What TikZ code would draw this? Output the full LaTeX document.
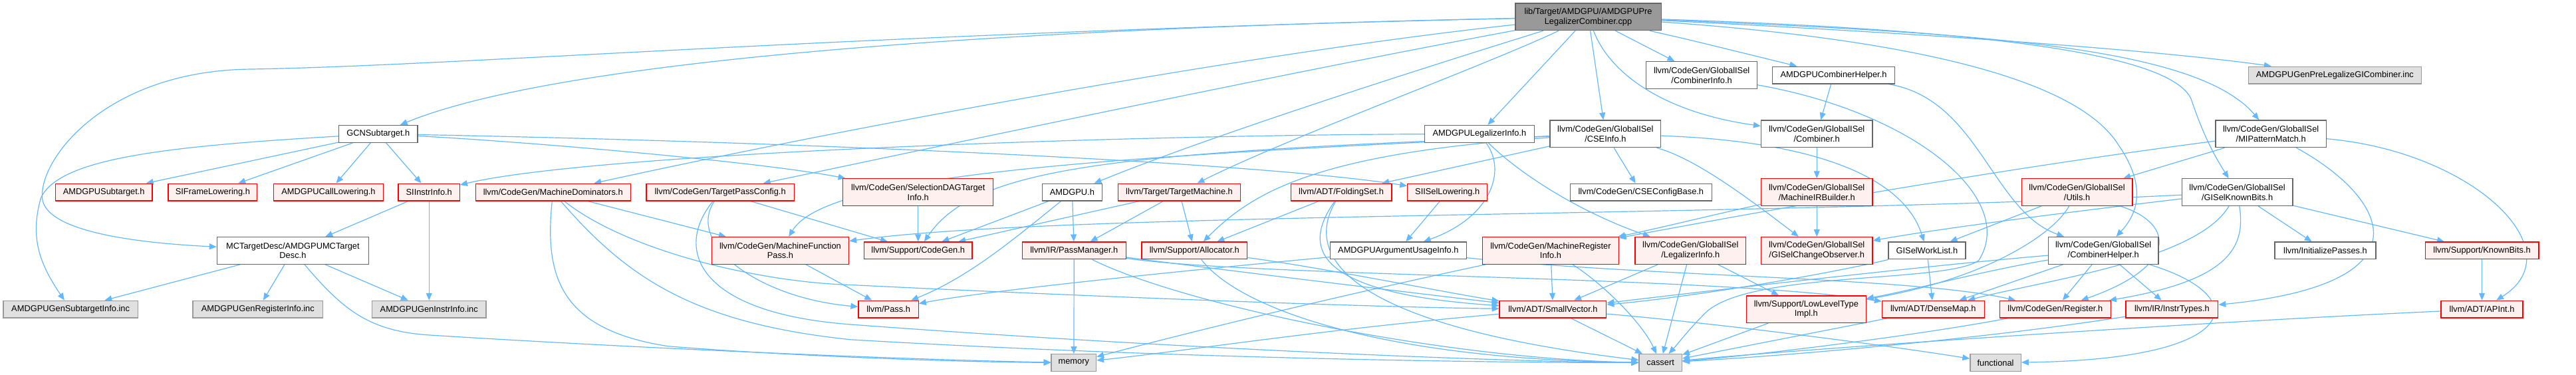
\documentclass[tikz,border=0pt]{standalone}
\usepackage{fontspec}
\setmainfont{Liberation Sans}
\usetikzlibrary{arrows.meta}
\definecolor{edgec}{HTML}{63B8FF}
\definecolor{redb}{HTML}{FF0000}
\definecolor{redf}{HTML}{FFF0F0}
\definecolor{greyb}{HTML}{999999}
\definecolor{greyf}{HTML}{E0E0E0}
\definecolor{darkb}{HTML}{666666}
\definecolor{topf}{HTML}{999999}
\newcommand\dxf{\fontsize{13}{15}\selectfont}
\pgfdeclarelayer{bg}
\pgfdeclarelayer{edges}
\pgfsetlayers{bg,edges,main}
\tikzset{
  base/.style={draw, line width=1.3bp, inner sep=0pt, align=center, font=\dxf, text=black},
  wnode/.style={base, draw=darkb, fill=white},
  rnode/.style={base, draw=redb, fill=redf},
  gnode/.style={base, draw=greyb, fill=greyf},
  tnode/.style={base, draw=darkb, fill=topf},
  sz/.style 2 args={minimum width=#1bp, minimum height=#2bp},
  edge/.style={draw=edgec, line width=1.2bp, -{Triangle[length=11bp,width=9bp]}},
}
\begin{document}
\begin{tikzpicture}[x=1bp,y=-1bp]
\begin{pgfonlayer}{bg}
\useasboundingbox (0,0) rectangle (3874,568);
\fill[white] (0,0) rectangle (3874,568);
\end{pgfonlayer}
% top
\node[tnode, sz={221}{41}] (T) at (2408,25.5) {lib/Target/AMDGPU/AMDGPUPre\\LegalizerCombiner.cpp};
% row 2
\node[wnode, sz={168}{41}] (CInfo) at (2580,114) {llvm/CodeGen/GlobalISel\\/CombinerInfo.h};
\node[wnode, sz={185}{26}] (ACH) at (2780,114) {AMDGPUCombinerHelper.h};
\node[gnode, sz={262}{26}] (Inc) at (3540,114) {AMDGPUGenPreLegalizeGICombiner.inc};
% row 3
\node[wnode, sz={119}{26}] (GCN) at (573.5,203) {GCNSubtarget.h};
\node[wnode, sz={166}{26}] (ALI) at (2243,203) {AMDGPULegalizerInfo.h};
\node[wnode, sz={168}{41}] (CSE) at (2434,203) {llvm/CodeGen/GlobalISel\\/CSEInfo.h};
\node[wnode, sz={169}{41}] (Comb) at (2754.5,203) {llvm/CodeGen/GlobalISel\\/Combiner.h};
\node[wnode, sz={168}{41}] (MIPM) at (3443,203) {llvm/CodeGen/GlobalISel\\/MIPatternMatch.h};
% row 4
\node[rnode, sz={147}{26}] (ASub) at (157.5,291.5) {AMDGPUSubtarget.h};
\node[rnode, sz={135}{26}] (SIFL) at (322.5,291.5) {SIFrameLowering.h};
\node[rnode, sz={166}{26}] (ACL) at (498,291.5) {AMDGPUCallLowering.h};
\node[rnode, sz={93}{26}] (SII) at (650.5,291.5) {SIInstrInfo.h};
\node[rnode, sz={235}{26}] (MDom) at (838.5,291.5) {llvm/CodeGen/MachineDominators.h};
\node[rnode, sz={224}{26}] (TPC) at (1092,291.5) {llvm/CodeGen/TargetPassConfig.h};
\node[rnode, sz={228}{41}] (SDAG) at (1392,291.5) {llvm/CodeGen/SelectionDAGTarget\\Info.h};
\node[wnode, sz={91}{26}] (AMDGPU) at (1625.5,291.5) {AMDGPU.h};
\node[rnode, sz={186}{26}] (TM) at (1788,291.5) {llvm/Target/TargetMachine.h};
\node[rnode, sz={153}{26}] (Fold) at (2033.5,291.5) {llvm/ADT/FoldingSet.h};
\node[rnode, sz={121}{26}] (SISL) at (2194.5,291.5) {SIISelLowering.h};
\node[wnode, sz={215}{26}] (CSEC) at (2488,291.5) {llvm/CodeGen/CSEConfigBase.h};
\node[rnode, sz={169}{41}] (MIRB) at (2754.5,291.5) {llvm/CodeGen/GlobalISel\\/MachineIRBuilder.h};
\node[rnode, sz={168}{41}] (Utils) at (3149,291.5) {llvm/CodeGen/GlobalISel\\/Utils.h};
\node[wnode, sz={168}{41}] (GKB) at (3392,291.5) {llvm/CodeGen/GlobalISel\\/GISelKnownBits.h};
% row 5
\node[wnode, sz={230}{41}] (MCTD) at (444,380) {MCTargetDesc/AMDGPUMCTarget\\Desc.h};
\node[rnode, sz={208}{41}] (MFP) at (1183,380) {llvm/CodeGen/MachineFunction\\Pass.h};
\node[rnode, sz={164}{26}] (CG) at (1392,380) {llvm/Support/CodeGen.h};
\node[rnode, sz={157}{26}] (PM) at (1628.5,380) {llvm/IR/PassManager.h};
\node[rnode, sz={160}{26}] (Alloc) at (1811,380) {llvm/Support/Allocator.h};
\node[wnode, sz={207}{26}] (AUI) at (2120,380) {AMDGPUArgumentUsageInfo.h};
\node[rnode, sz={206}{41}] (MRI) at (2351,380) {llvm/CodeGen/MachineRegister\\Info.h};
\node[rnode, sz={168}{41}] (LegI) at (2563,380) {llvm/CodeGen/GlobalISel\\/LegalizerInfo.h};
\node[rnode, sz={169}{41}] (GCO) at (2754.5,380) {llvm/CodeGen/GlobalISel\\/GISelChangeObserver.h};
\node[wnode, sz={117}{26}] (GWL) at (2921.5,380) {GISelWorkList.h};
\node[wnode, sz={167}{41}] (CH) at (3189,380) {llvm/CodeGen/GlobalISel\\/CombinerHelper.h};
\node[wnode, sz={153}{26}] (IP) at (3525.5,380) {llvm/InitializePasses.h};
\node[rnode, sz={172}{26}] (KB) at (3763,380) {llvm/Support/KnownBits.h};
% row 6
\node[gnode, sz={204}{26}] (GSI) at (107,469) {AMDGPUGenSubtargetInfo.inc};
\node[gnode, sz={197}{26}] (GRI) at (391,469) {AMDGPUGenRegisterInfo.inc};
\node[gnode, sz={173}{26}] (GII) at (650.5,469) {AMDGPUGenInstrInfo.inc};
\node[rnode, sz={91}{26}] (Pass) at (1347,469) {llvm/Pass.h};
\node[rnode, sz={162}{26}] (SV) at (2354.5,469) {llvm/ADT/SmallVector.h};
\node[rnode, sz={181}{41}] (LLT) at (2738.5,469) {llvm/Support/LowLevelType\\Impl.h};
\node[rnode, sz={155}{26}] (DM) at (2931,469) {llvm/ADT/DenseMap.h};
\node[rnode, sz={168}{26}] (Reg) at (3116,469) {llvm/CodeGen/Register.h};
\node[rnode, sz={140}{26}] (IT) at (3293,469) {llvm/IR/InstrTypes.h};
\node[rnode, sz={124}{26}] (APInt) at (3763,469) {llvm/ADT/APInt.h};
% row 7
\node[gnode, sz={68}{26}] (mem) at (1628,550) {memory};
\node[gnode, sz={65}{26}] (cassert) at (2517.5,550) {cassert};
\node[gnode, sz={77}{26}] (func) at (3025.5,550) {functional};

\begin{pgfonlayer}{edges}
% from top
\draw[edge] (T) .. controls (1300,48) and (800,110) .. (GCN);
\draw[edge] (T) .. controls (1300,50) and (700,100) .. (373,105) .. controls (160,110) and (60,240) .. (64,300) .. controls (68,350) and (200,368) .. (MCTD);
\draw[edge] (T) .. controls (1900,80) and (1300,190) .. (MDom);
\draw[edge] (T) .. controls (1900,120) and (1300,248) .. (TPC);
\draw[edge] (T) .. controls (2200,90) and (1850,200) .. (AMDGPU);
\draw[edge] (T) .. controls (2250,100) and (1950,210) .. (TM);
\draw[edge] (T) -- (ALI);
\draw[edge] (T) -- (CSE);
\draw[edge] (T) -- (CInfo);
\draw[edge] (T) .. controls (2560,60) .. (ACH);
\draw[edge] (T) .. controls (2440,110) and (2520,170) .. (Comb);
\draw[edge] (T) .. controls (2900,60) and (3150,120) .. (3212,220) .. controls (3260,290) and (3235,330) .. (CH);
\draw[edge] (T) .. controls (3000,45) and (3290,80) .. (3322,150) .. controls (3342,210) and (3360,240) .. (GKB);
\draw[edge] (T) .. controls (3000,50) and (3330,70) .. (MIPM);
\draw[edge] (T) .. controls (3000,55) and (3300,80) .. (Inc);
% GCNSubtarget
\draw[edge] (GCN) -- (ASub);
\draw[edge] (GCN) -- (SIFL);
\draw[edge] (GCN) -- (ACL);
\draw[edge] (GCN) -- (SII);
\draw[edge] (GCN) .. controls (800,215) and (1150,245) .. (SDAG);
\draw[edge] (GCN) .. controls (1200,215) and (1900,245) .. (SISL);
\draw[edge] (GCN) .. controls (250,222) and (90,240) .. (62,300) .. controls (45,360) and (60,400) .. (GSI);
% SIInstrInfo, MCTargetDesc
\draw[edge] (SII) -- (MCTD);
\draw[edge] (SII) -- (GII);
\draw[edge] (MCTD) -- (GSI);
\draw[edge] (MCTD) -- (GRI);
\draw[edge] (MCTD) -- (GII);
\draw[edge] (MCTD) .. controls (520,470) and (560,502) .. (650,508) .. controls (1000,530) and (1400,546) .. (mem);
\draw[edge] (SDAG) -- (CG);
% MachineDominators
\draw[edge] (MDom) -- (MFP);
\draw[edge] (MDom) .. controls (825,420) and (850,500) .. (1013,525) .. controls (1200,540) and (1450,549) .. (mem);
\draw[edge] (MDom) .. controls (950,420) and (1050,490) .. (1290,515) .. controls (1800,545) and (2300,550) .. (cassert);
\draw[edge] (MDom) .. controls (950,380) and (1150,428) .. (1290,432) .. controls (1700,452) and (2100,466) .. (SV);
% TargetPassConfig
\draw[edge] (TPC) .. controls (1040,370) and (1150,452) .. (Pass);
\draw[edge] (TPC) -- (CG);
\draw[edge] (TPC) .. controls (1020,380) and (1060,475) .. (1290,492) .. controls (1800,530) and (2300,549) .. (cassert);
\draw[edge] (MFP) -- (Pass);
% AMDGPU.h, TargetMachine
\draw[edge] (AMDGPU) -- (CG);
\draw[edge] (AMDGPU) -- (PM);
\draw[edge] (AMDGPU) .. controls (1540,360) and (1470,420) .. (Pass);
\draw[edge] (TM) -- (CG);
\draw[edge] (TM) -- (PM);
\draw[edge] (TM) -- (Alloc);
% PassManager, Allocator, FoldingSet
\draw[edge] (PM) -- (mem);
\draw[edge] (PM) .. controls (1800,465) and (2200,545) .. (cassert);
\draw[edge] (PM) .. controls (1900,415) and (2150,445) .. (SV);
\draw[edge] (PM) .. controls (1900,420) and (2600,418) .. (DM);
\draw[edge] (Alloc) .. controls (1880,470) and (2100,545) .. (cassert);
\draw[edge] (Alloc) .. controls (2000,405) and (2200,445) .. (SV);
\draw[edge] (Fold) .. controls (1970,380) and (2000,445) .. (SV);
\draw[edge] (Fold) .. controls (1980,380) and (2020,490) .. (cassert);
\draw[edge] (Fold) -- (Alloc);
% SIISelLowering, AMDGPULegalizerInfo, CSEInfo
\draw[edge] (SISL) -- (AUI);
\draw[edge] (ALI) .. controls (2285,260) and (2260,330) .. (AUI);
\draw[edge] (ALI) .. controls (2300,260) and (2390,320) .. (LegI);
\draw[edge] (ALI) .. controls (1700,205) and (900,232) .. (SII);
\draw[edge] (CSE) -- (Fold);
\draw[edge] (CSE) -- (CSEC);
\draw[edge] (CSE) .. controls (2570,240) and (2650,300) .. (GCO);
\draw[edge] (CSE) .. controls (2700,212) and (2880,250) .. (GWL);
\draw[edge] (CSE) .. controls (1600,240) and (1250,270) .. (MFP);
\draw[edge] (CSE) .. controls (2000,232) and (1900,290) .. (Alloc);
\draw[edge] (CSE) .. controls (1700,232) and (1480,250) .. (CG);
% MachineRegisterInfo, LegalizerInfo, MachineIRBuilder, Combiner
\draw[edge] (MRI) -- (SV);
\draw[edge] (MRI) .. controls (2430,430) and (2490,490) .. (cassert);
\draw[edge] (MRI) .. controls (2000,455) and (1800,505) .. (mem);
\draw[edge] (LegI) -- (SV);
\draw[edge] (LegI) -- (cassert);
\draw[edge] (LegI) -- (LLT);
\draw[edge] (MIRB) -- (GCO);
\draw[edge] (MIRB) .. controls (2600,325) and (2520,345) .. (MRI);
\draw[edge] (Comb) -- (MIRB);
\draw[edge] (ACH) -- (Comb);
\draw[edge] (ACH) .. controls (3000,150) and (3020,320) .. (CH);
\draw[edge] (CInfo) .. controls (2900,170) and (3060,300) .. (3000,395) .. controls (2950,430) and (2650,410) .. (2585,475) .. controls (2560,500) and (2545,520) .. (cassert);
% Utils, MIPatternMatch, GISelKnownBits
\draw[edge] (Utils) -- (GWL);
\draw[edge] (Utils) .. controls (3110,360) and (3000,425) .. (LLT);
\draw[edge] (Utils) .. controls (3300,340) and (3300,405) .. (Reg);
\draw[edge] (MIPM) -- (Utils);
\draw[edge] (MIPM) .. controls (3620,300) and (3690,430) .. (IT);
\draw[edge] (MIPM) .. controls (3750,230) and (3905,380) .. (APInt);
\draw[edge] (MIPM) .. controls (3000,260) and (2620,330) .. (MRI);
\draw[edge] (GKB) .. controls (3150,320) and (2950,345) .. (GCO);
\draw[edge] (GKB) .. controls (2600,330) and (1600,322) .. (MFP);
\draw[edge] (GKB) .. controls (3330,395) and (3100,425) .. (DM);
\draw[edge] (GKB) .. controls (3405,375) and (3380,425) .. (Reg);
\draw[edge] (GKB) -- (IP);
\draw[edge] (GKB) -- (KB);
\draw[edge] (KB) -- (APInt);
% bottom rows
\draw[edge] (APInt) .. controls (3300,490) and (2700,532) .. (cassert);
\draw[edge] (IT) .. controls (3000,515) and (2700,540) .. (cassert);
\draw[edge] (Reg) .. controls (2900,510) and (2650,540) .. (cassert);
\draw[edge] (DM) -- (cassert);
\draw[edge] (LLT) -- (cassert);
\draw[edge] (GWL) -- (DM);
\draw[edge] (GWL) .. controls (2750,420) and (2550,452) .. (SV);
\draw[edge] (CH) .. controls (2900,405) and (2600,440) .. (SV);
\draw[edge] (CH) .. controls (3000,412) and (2900,440) .. (LLT);
\draw[edge] (CH) -- (DM);
\draw[edge] (CH) -- (Reg);
\draw[edge] (CH) -- (IT);
\draw[edge] (CH) .. controls (3420,450) and (3400,545) .. (func);
\draw[edge] (SV) -- (cassert);
\draw[edge] (SV) .. controls (2000,500) and (1800,532) .. (mem);
\draw[edge] (SV) .. controls (2600,490) and (2850,522) .. (func);
\draw[edge] (AUI) .. controls (1800,410) and (1500,440) .. (Pass);
\draw[edge] (AUI) .. controls (2500,420) and (2900,420) .. (Reg);
\end{pgfonlayer}
\end{tikzpicture}
\end{document}
